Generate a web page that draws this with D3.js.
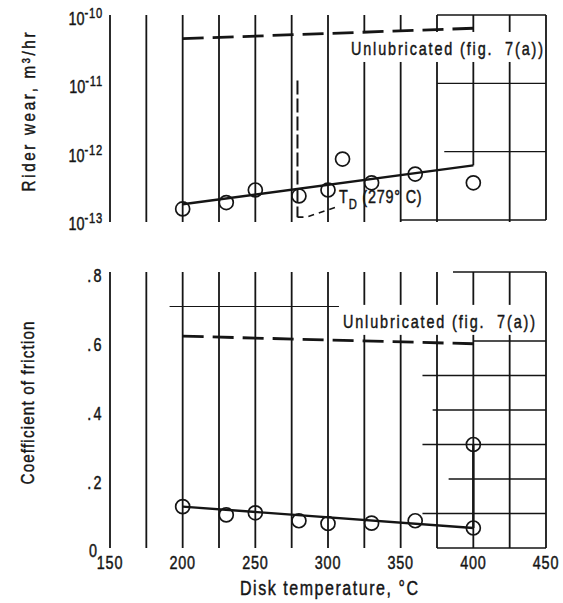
<!DOCTYPE html>
<html>
<head>
<meta charset="utf-8">
<script src="https://cdn.jsdelivr.net/npm/d3@7"></script>
<style>
  body { margin: 0; background: #fff; }
  svg text { font-family: "Liberation Sans", Arial, sans-serif; fill: #151515; stroke: #151515; stroke-width: 0.45; }
</style>
</head>
<body>
<div id="chart"></div>
<script>
// rider wear (m^3/hr), lubricated runs
const wearTemps = [200, 230, 250, 280, 300, 310, 330, 360, 400];
const wearValues = [1.45e-13, 1.8e-13, 2.75e-13, 2.25e-13, 2.75e-13, 7.8e-13, 3.5e-13, 4.7e-13, 3.5e-13];
const fitTemps = [200, 400];
const wearFit = [1.7e-13, 6.3e-13];
const wearUnlub = [4.5e-11, 6.4e-11];

// coefficient of friction
const frictionTemps = [200, 230, 250, 280, 300, 330, 360, 400, 400];
const frictionValues = [0.12, 0.096, 0.102, 0.079, 0.071, 0.072, 0.079, 0.058, 0.30];
const frictionFit = [0.12, 0.058];
const frictionUnlub = [0.614, 0.592];

// decomposition temperature marker
const tdTemp = 279;
const tdRange = [1.1e-13, 1.1e-11];

const xTicks = [150, 200, 250, 300, 350, 400, 450];
const wearTicks = [1e-10, 1e-11, 1e-12, 1e-13];
const wearExp = ["-10", "-11", "-12", "-13"];
const frictionTicks = [0, 0.2, 0.4, 0.6, 0.8];

// partial horizontal grid lines on the right side: [value, start temperature]
const wearGrid = [[1e-10, 375], [1e-11, 375], [1e-12, 380], [1e-13, 350]];
const frictionGrid = [[0.8, 386], [0.7, 191], [0.6, 400], [0.5, 365], [0.4, 372],
                      [0.3, 365], [0.2, 383], [0.1, 365], [0, 375]];

const width = 563, height = 603;
const ink = "#151515";
const narrow = 0.8; // the lettering is condensed, squeeze a regular sans

const svg = d3.select("#chart").append("svg")
    .attr("width", width)
    .attr("height", height);

const x = d3.scaleLinear().domain([150, 450]).range([110, 546]);
const yWear = d3.scaleLog().domain([1e-13, 1e-10]).range([220, 15]);
const yFric = d3.scaleLinear().domain([0, 0.8]).range([548, 272]);

const gridTemps = d3.range(150, 451, 25);

const gGrid = svg.append("g");
const gBox = svg.append("g");
const gMarks = svg.append("g");
const gText = svg.append("g");

// condensed text helper
function addText(px, py, str, o = {}) {
    const rot = o.rotate ? ` rotate(${o.rotate})` : "";
    const t = gText.append("g")
        .attr("transform", `translate(${px},${py})${rot} scale(${narrow},1)`)
        .append("text")
        .attr("font-size", o.size || 18)
        .attr("text-anchor", o.anchor || "start");
    if (o.length) t.attr("textLength", o.length / narrow).attr("lengthAdjust", "spacing");
    if (o.spacing) t.attr("letter-spacing", o.spacing);
    if (str) t.text(str);
    return t;
}

// vertical grid lines, top panel
gGrid.selectAll(".vtop")
    .data(gridTemps.filter(t => t < 450))
    .enter().append("line")
    .attr("x1", d => x(d)).attr("x2", d => x(d))
    .attr("y1", yWear(1e-10))
    .attr("y2", d => d === 400 ? yWear(wearFit[1]) : yWear(1e-13) + 2)
    .attr("stroke", ink).attr("stroke-width", 1.8);

// vertical grid lines, bottom panel
gGrid.selectAll(".vbot")
    .data(gridTemps.filter(t => t < 450))
    .enter().append("line")
    .attr("x1", d => x(d)).attr("x2", d => x(d))
    .attr("y1", yFric(0.8)).attr("y2", yFric(0))
    .attr("stroke", ink).attr("stroke-width", 1.8);

// partial horizontal grid
gGrid.selectAll(".htop")
    .data(wearGrid)
    .enter().append("line")
    .attr("x1", d => x(d[1])).attr("x2", x(450))
    .attr("y1", d => yWear(d[0])).attr("y2", d => yWear(d[0]))
    .attr("stroke", ink).attr("stroke-width", 1.4);

gGrid.selectAll(".hbot")
    .data(frictionGrid)
    .enter().append("line")
    .attr("x1", d => x(d[1])).attr("x2", x(450))
    .attr("y1", d => yFric(d[0])).attr("y2", d => yFric(d[0]))
    .attr("stroke", ink).attr("stroke-width", d => d[0] === 0.7 ? 1 : 1.4);

// label boxes that hide the grid behind "Unlubricated" text
const unlubLabels = [
    { t: 315.8, y: yWear(2.6e-11) },
    { t: 310.3, y: yFric(0.638) }
];
gBox.selectAll("rect")
    .data(unlubLabels)
    .enter().append("rect")
    .attr("x", d => x(d.t) - 4)
    .attr("width", d => x(450) - x(d.t) + 4)
    .attr("y", d => d.y - 23)
    .attr("height", 30)
    .attr("fill", "#fff");

unlubLabels.forEach(d => {
    addText(x(d.t), d.y, "Unlubricated (fig.  7(a))", { size: 18, length: 192 })
        .attr("xml:space", "preserve");
});

// right borders
[[yWear(1e-10), yWear(1e-13)], [yFric(0.8), yFric(0)]].forEach(r => {
    gMarks.append("line")
        .attr("x1", x(450)).attr("x2", x(450))
        .attr("y1", r[0]).attr("y2", r[1])
        .attr("stroke", ink).attr("stroke-width", 1.8);
});

// unlubricated reference lines (dashed)
const wearLine = d3.line().x(d => x(d[0])).y(d => yWear(d[1]));
const fricLine = d3.line().x(d => x(d[0])).y(d => yFric(d[1]));

gMarks.append("path")
    .attr("d", wearLine(d3.zip(fitTemps, wearUnlub)))
    .attr("fill", "none").attr("stroke", ink)
    .attr("stroke-width", 2.8).attr("stroke-dasharray", "21,9");

gMarks.append("path")
    .attr("d", fricLine(d3.zip(fitTemps, frictionUnlub)))
    .attr("fill", "none").attr("stroke", ink)
    .attr("stroke-width", 2.8).attr("stroke-dasharray", "21,9");

// fitted lines
gMarks.append("path")
    .attr("d", wearLine(d3.zip(fitTemps, wearFit)))
    .attr("fill", "none").attr("stroke", ink).attr("stroke-width", 2.4);

gMarks.append("path")
    .attr("d", fricLine(d3.zip(fitTemps, frictionFit)))
    .attr("fill", "none").attr("stroke", ink).attr("stroke-width", 2.4);

// vertical link between the two 400 C friction points
gMarks.append("path")
    .attr("d", fricLine([[400, frictionValues[7]], [400, frictionValues[8]]]))
    .attr("fill", "none").attr("stroke", ink).attr("stroke-width", 2.4);

// T_D marker
gMarks.append("path")
    .attr("d", wearLine([[tdTemp, tdRange[1]], [tdTemp, tdRange[0]]]))
    .attr("fill", "none").attr("stroke", ink)
    .attr("stroke-width", 2).attr("stroke-dasharray", "14,4");

gMarks.append("path")
    .attr("d", wearLine([[tdTemp, tdRange[0]], [285, tdRange[0]], [306, 1.55e-13]]))
    .attr("fill", "none").attr("stroke", ink)
    .attr("stroke-width", 1.6).attr("stroke-dasharray", "6,5");

const td = addText(x(307.6), yWear(1.78e-13), null, { size: 18, spacing: 1 });
td.append("tspan").text("T");
td.append("tspan").attr("font-size", 14).attr("dy", 6).text("D");
td.append("tspan").attr("dy", -6).attr("dx", 6).text("(279\u00b0 C)");

// data points
gMarks.selectAll(".pwear")
    .data(d3.zip(wearTemps, wearValues))
    .enter().append("circle")
    .attr("cx", d => x(d[0])).attr("cy", d => yWear(d[1]))
    .attr("r", 7)
    .attr("fill", "none").attr("stroke", ink).attr("stroke-width", 1.7);

gMarks.selectAll(".pfric")
    .data(d3.zip(frictionTemps, frictionValues))
    .enter().append("circle")
    .attr("cx", d => x(d[0])).attr("cy", d => yFric(d[1]))
    .attr("r", 7)
    .attr("fill", "none").attr("stroke", ink).attr("stroke-width", 1.7);

// x tick labels
xTicks.forEach(v => {
    addText(x(v), 569, String(v), { size: 18, anchor: "middle", spacing: 1 });
});

// top y tick labels (powers of ten)
wearTicks.forEach((v, i) => {
    const t = addText(103, yWear(v) + 10, null, { size: 18, anchor: "end" });
    t.append("tspan").text("10");
    t.append("tspan").attr("font-size", 14).attr("dy", -7).attr("letter-spacing", 1).text(wearExp[i]);
});

// bottom y tick labels
frictionTicks.forEach(v => {
    if (v === 0) {
        addText(97, yFric(v) + 9, "0", { size: 18, anchor: "end" });
    } else {
        addText(104, yFric(v) + 10, d3.format(".1f")(v).replace(/^0/, ""),
            { size: 18, anchor: "end", spacing: 3 });
    }
});

// axis titles
addText(35, 112, "Rider wear,  m\u00b3/hr", { size: 19, anchor: "middle", rotate: -90, length: 159 });
addText(34, 403, "Coefficient of friction", { size: 19, anchor: "middle", rotate: -90, length: 163 });
addText(329, 595, "Disk temperature,  \u00b0C", { size: 20, anchor: "middle", length: 178 });
</script>
</body>
</html>
